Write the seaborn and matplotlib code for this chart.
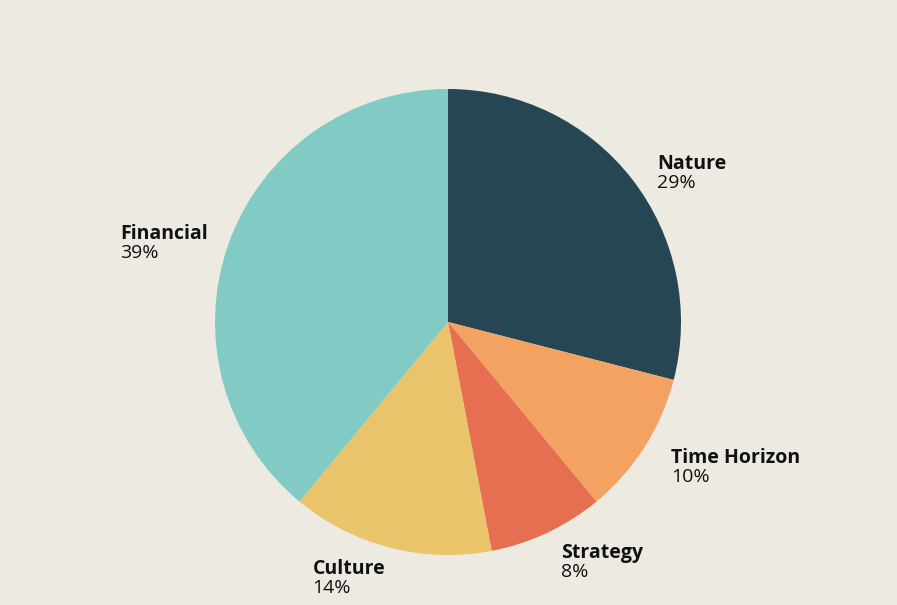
import matplotlib
matplotlib.use("Agg")
import matplotlib.pyplot as plt
import seaborn as sns
import numpy as np

categories = ["Nature", "Time Horizon", "Strategy", "Culture", "Financial"]
shares = [29, 10, 8, 14, 39]
colors = ["#264653", "#F4A261", "#E76F51", "#E9C46A", "#81CBC4"]

bg = "#EDEAE2"
sns.set_theme(style="white")
plt.rcParams["font.family"] = ["Open Sans", "DejaVu Sans"]

fig = plt.figure(figsize=(8.97, 6.05), dpi=100, facecolor=bg)
ax = fig.add_axes([0, 0, 1, 1])
ax.set_facecolor(bg)

wedges, _ = ax.pie(shares, colors=colors, startangle=90, counterclock=False,
                   radius=1, wedgeprops=dict(linewidth=0))

# pie radius ~233px, centre at (448, 322) px
R = 233
ax.set_xlim(-448 / R, (897 - 448) / R)
ax.set_ylim(-(605 - 322) / R, 322 / R)
ax.set_aspect("equal")
ax.axis("off")

fig.canvas.draw()
renderer = fig.canvas.get_renderer()
for w, name, val in zip(wedges, categories, shares):
    ang = np.deg2rad((w.theta1 + w.theta2) / 2)
    right = np.cos(ang) > 0
    rx = 1.135 if right else 1.1
    x = rx * np.cos(ang) + (0 if right else 1 / R)
    y = 1.1 * np.sin(ang) - 10 / R
    ha = "left" if right else "right"
    t = ax.text(x, y + 1 / R, name, ha=ha, va="bottom", fontsize=14,
                fontweight="bold", color="#111111")
    bb = t.get_window_extent(renderer).transformed(ax.transData.inverted())
    ax.text(bb.x0, y + 1 / R, f"{val}%", ha="left", va="top", fontsize=14,
            color="#111111")

fig.savefig("out.png", dpi=100, facecolor=bg)
